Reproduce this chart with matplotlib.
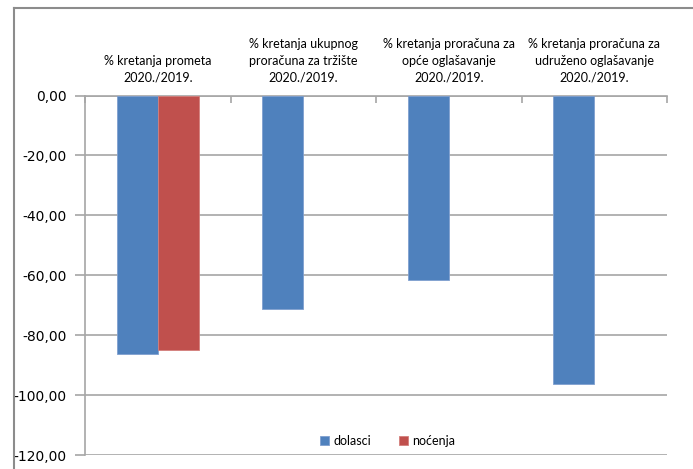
import matplotlib
matplotlib.use('Agg')
import matplotlib.pyplot as plt
from matplotlib.lines import Line2D
import numpy as np

plt.rcParams['font.family'] = ['Lato', 'DejaVu Sans']

# Podaci
categories = [
    "% kretanja prometa\n2020./2019.",
    "% kretanja ukupnog\nproračuna za tržište\n2020./2019.",
    "% kretanja proračuna za\nopće oglašavanje\n2020./2019.",
    "% kretanja proračuna za\nudruženo oglašavanje\n2020./2019.",
]
dolasci = [-86.4, -71.4, -61.7, -96.3]
nocenja = [-85.1, np.nan, np.nan, np.nan]
y_ticks = [0, -20, -40, -60, -80, -100, -120]

blue = '#4F81BD'
red = '#C0504D'
grid_col = '#a6a6a6'

W, H = 693, 469
fig = plt.figure(figsize=(W / 100, H / 100), dpi=100)
ax = fig.add_axes([85 / W, 1 - 455 / H, (667 - 85) / W, (455 - 95.5) / H])

x = np.arange(len(categories))
w = 0.282
ax.bar(x - w / 2, dolasci, w, color=blue, edgecolor='#7f9fcf', linewidth=0.6, label='dolasci', zorder=3)
ax.bar(x + w / 2, nocenja, w, color=red, edgecolor='#d47f7c', linewidth=0.6, label='noćenja', zorder=3)

ax.set_xlim(-0.5, len(categories) - 0.5)
ax.set_ylim(-120, 0)
ax.set_yticks(y_ticks)
ax.set_yticklabels([f"{v:.2f}".replace('.', ',') for v in y_ticks], fontsize=10, family='DejaVu Sans')
ax.yaxis.grid(True, color=grid_col, linewidth=1.2, zorder=0)

ax.xaxis.tick_top()
ax.set_xticks(x)
ax.set_xticklabels(categories, fontsize=9, linespacing=1.45)
ax.set_xticks(np.arange(-0.5, len(categories)), minor=True)
ax.tick_params(axis='x', which='major', length=0, pad=9)
ax.tick_params(axis='x', which='minor', direction='in', length=5, color=grid_col, width=1.2)
ax.tick_params(axis='y', length=7, color=grid_col, width=1.2, pad=6)

for s in ['right', 'bottom']:
    ax.spines[s].set_visible(False)
for s in ['left', 'top']:
    ax.spines[s].set_color(grid_col)
    ax.spines[s].set_linewidth(1.2)

ax.legend(loc='center', bbox_to_anchor=(0.52, 0.04), ncol=2, frameon=False,
          handlelength=0.7, handleheight=0.7, handletextpad=0.4, columnspacing=2.2, fontsize=9)

# okvir grafikona
fig.add_artist(Line2D([14 / W, 14 / W], [0, 1 - 8 / H], color='#8c8c8c', linewidth=1.5))
fig.add_artist(Line2D([14 / W, 1], [1 - 8 / H, 1 - 8 / H], color='#8c8c8c', linewidth=1.5))

fig.savefig('out.png', dpi=100)
